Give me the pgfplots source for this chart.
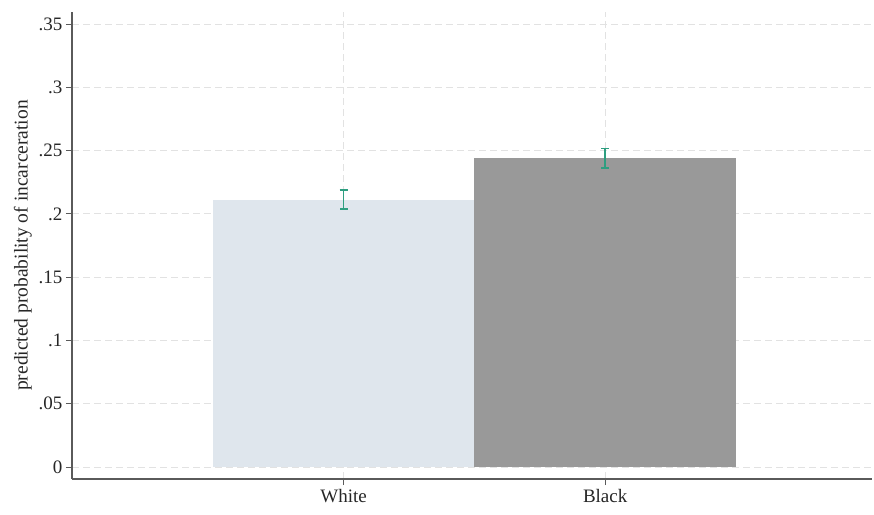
\documentclass[border=0pt]{standalone}
\usepackage{pgfplots}
\pgfplotsset{compat=1.18}
\usepackage{fontspec}
\setmainfont{Liberation Serif}

\definecolor{whitebar}{HTML}{DFE6ED}
\definecolor{blackbar}{HTML}{999999}
\definecolor{cicol}{HTML}{2E9E80}
\definecolor{gridcol}{HTML}{E2E2E2}
\definecolor{axiscol}{HTML}{5A5A5A}

\begin{document}
\begin{tikzpicture}
\begin{axis}[
    at={(0,0)}, anchor=south west,
    scale only axis,
    width=800pt, height=467pt,
    xmin=-0.038, xmax=3.02,
    ymin=-0.0095, ymax=0.3595,
    axis lines*=left,
    axis line style={axiscol, line width=1.1pt},
    tick style={axiscol, line width=0.9pt},
    major tick length=6pt,
    tick align=outside,
    xtick={1,2},
    xticklabels={White, Black},
    ytick={0,0.05,0.1,0.15,0.2,0.25,0.3,0.35},
    yticklabels={0,.05,.1,.15,.2,.25,.3,.35},
    ticklabel style={font=\fontsize{19}{22}\selectfont, text=black!85},
    xticklabel style={yshift=-1pt},
    ylabel={predicted probability of incarceration},
    ylabel style={font=\fontsize{19.5}{22}\selectfont, text=black!85},
    ylabel shift=0pt,
    grid=major,
    major grid style={gridcol, dashed, dash pattern=on 7pt off 4pt, line width=0.8pt},
    clip=false,
]
\addplot[ybar, bar width=1, bar shift=0, fill=whitebar, draw=none,
    error bars/.cd, y dir=both, y explicit,
    error bar style={cicol, line width=1.8pt},
    error mark options={cicol, line width=1.3pt, mark size=4pt, rotate=90}]
  coordinates {(1,0.2113) +- (0,0.0075)};
\addplot[ybar, bar width=1, bar shift=0, fill=blackbar, draw=none,
    error bars/.cd, y dir=both, y explicit,
    error bar style={cicol, line width=1.8pt},
    error mark options={cicol, line width=1.3pt, mark size=4pt, rotate=90}]
  coordinates {(2,0.2440) +- (0,0.0078)};
\end{axis}
\path[use as bounding box] (-72pt,-35pt) rectangle (802pt,479pt);
\end{tikzpicture}
\end{document}
